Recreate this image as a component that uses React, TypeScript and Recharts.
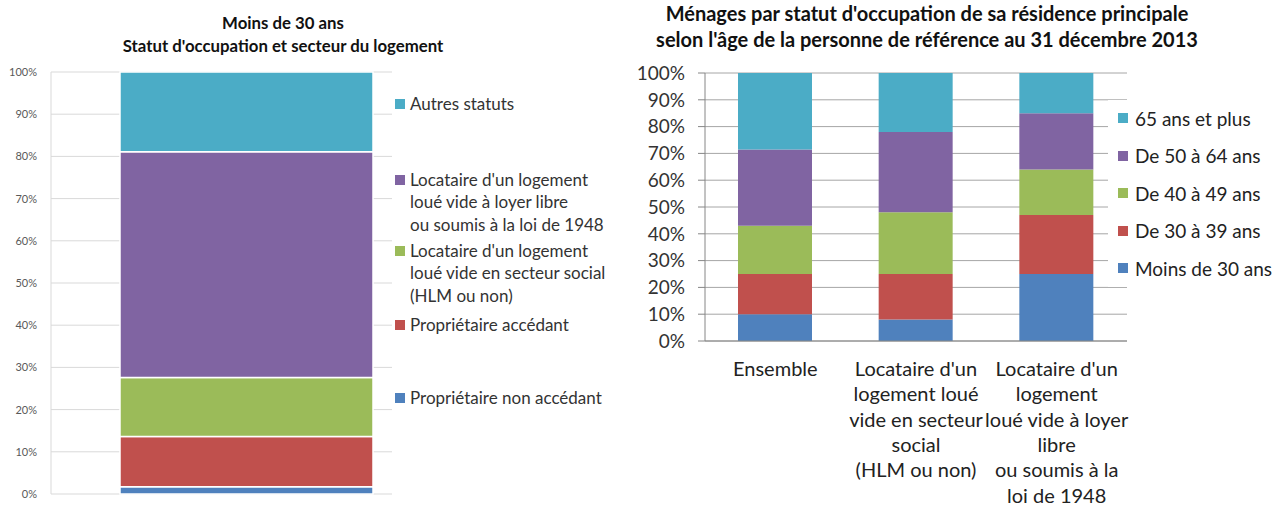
import { BarChart, Bar, XAxis, YAxis, CartesianGrid, Legend } from "recharts"

// Graphique de gauche : moins de 30 ans, statut d'occupation
const statuts = [
  "Propriétaire non accédant",
  "Propriétaire accédant",
  "Locataire d'un logement\nloué vide en secteur social\n(HLM ou non)",
  "Locataire d'un logement\nloué vide à loyer libre\nou soumis à la loi de 1948",
  "Autres statuts",
]
const partsMoins30 = [1.7, 11.9, 14.0, 53.5, 18.9]

// Graphique de droite : tranches d'âge par statut
const categories = [
  "Ensemble",
  "Locataire d'un\nlogement loué\nvide en secteur\nsocial\n(HLM ou non)",
  "Locataire d'un\nlogement\nloué vide à loyer\nlibre\nou soumis à la\nloi de 1948",
]
const tranches = ["Moins de 30 ans", "De 30 à 39 ans", "De 40 à 49 ans", "De 50 à 64 ans", "65 ans et plus"]
const moins30 = [10, 8, 25]
const de30a39 = [15, 17, 22]
const de40a49 = [18, 23, 17]
const de50a64 = [28.5, 30, 21]
const plus65 = [28.5, 22, 15]

const pctTicks = [0, 10, 20, 30, 40, 50, 60, 70, 80, 90, 100]
const couleurs = ["#4F81BD", "#C0504D", "#9BBB59", "#8064A2", "#4BACC6"]

const leftData = [
  partsMoins30.reduce(
    (acc, v, i) => {
      acc[`s${i}`] = v
      return acc
    },
    { name: "Moins de 30 ans" } as Record<string, any>,
  ),
]

const rightData = categories.map((c, i) => ({
  name: c,
  a0: moins30[i],
  a1: de30a39[i],
  a2: de40a49[i],
  a3: de50a64[i],
  a4: plus65[i],
}))
const seriesRight = [moins30, de30a39, de40a49, de50a64, plus65]

const leftGaps = [0, 53.5, 3.5, 6.5, 50.5]

// la légende est affichée du haut de la pile vers le bas
const ordered = (payload: any[], names: string[]) =>
  [...(payload || [])].sort((a, b) => names.indexOf(b.value) - names.indexOf(a.value))

const LeftLegend = ({ payload }: any) => {
  const items = ordered(payload, statuts)
  return (
    <div style={{ fontSize: 17, lineHeight: "22.5px", color: "#333", textAlign: "left" }}>
      {items.map((it: any, i: number) => (
        <div key={i} style={{ display: "flex", marginTop: leftGaps[i] }}>
          <span style={{ width: 10, height: 10, background: it.color, marginTop: 6, marginRight: 5, flex: "none" }} />
          <span>
            {String(it.value)
              .split("\n")
              .map((l, j) => (
                <div key={j}>{l}</div>
              ))}
          </span>
        </div>
      ))}
    </div>
  )
}

const RightLegend = ({ payload }: any) => {
  const items = ordered(payload, tranches)
  return (
    <div style={{ fontSize: 19, color: "#222", background: "#fff", paddingLeft: 10, textAlign: "left" }}>
      {items.map((it: any, i: number) => (
        <div key={i} style={{ display: "flex", alignItems: "center", height: 37.5 }}>
          <span style={{ width: 10, height: 10, background: it.color, marginRight: 7, flex: "none" }} />
          <span>{it.value}</span>
        </div>
      ))}
    </div>
  )
}

const CategoryTick = ({ x, y, payload }: any) => {
  const lines = String(payload.value).split("\n")
  return (
    <text x={x} y={y} textAnchor="middle" fontSize={20} fill="#222">
      {lines.map((l, i) => (
        <tspan key={i} x={x} dy={i === 0 ? 35 : 25.3}>
          {l}
        </tspan>
      ))}
    </text>
  )
}

export default function App() {
  return (
    <div style={{ position: "absolute", left: 0, top: 0, width: 1280, height: 508, background: "#fff", fontFamily: "Lato, sans-serif" }}>
      <div style={{ position: "absolute", left: 103, top: 11, width: 360, textAlign: "center", fontWeight: 700, fontSize: 16.8, lineHeight: "23px", color: "#111" }}>
        Moins de 30 ans
        <br />
        Statut d'occupation et secteur du logement
      </div>
      <div style={{ position: "absolute", left: 607, top: 0, width: 640, textAlign: "center", fontWeight: 700, fontSize: 20, lineHeight: "26px", color: "#111" }}>
        Ménages par statut d'occupation de sa résidence principale
        <br />
        selon l'âge de la personne de référence au 31 décembre 2013
      </div>

      <div style={{ position: "absolute", left: 0, top: 0 }}>
        <BarChart width={620} height={508} data={leftData} margin={{ top: 72, right: 228, bottom: 14, left: 0 }}>
          <CartesianGrid vertical={false} stroke="#d9d9d9" />
          <XAxis dataKey="name" height={0} tick={false} tickLine={false} axisLine={{ stroke: "#d9d9d9" }} padding={{ left: 50, right: 0 }} />
          <YAxis
            width={51}
            domain={[0, 100]}
            ticks={pctTicks}
            interval={0}
            tickFormatter={(v) => `${v}%`}
            tickSize={0}
            tickMargin={14}
            axisLine={{ stroke: "#d9d9d9" }}
            tick={{ fontSize: 11, fill: "#595959" }}
          />
          <Legend
            layout="horizontal"
            verticalAlign="middle"
            align="center"
            content={<LeftLegend />}
            wrapperStyle={{ position: "absolute", left: 395, top: 92.75, width: 225 }}
          />
          {statuts.map((s, i) => (
            <Bar key={s} dataKey={`s${i}`} name={s} stackId="a" fill={couleurs[i]} stroke="#fff" strokeWidth={1.5} barSize={253} isAnimationActive={false} />
          ))}
        </BarChart>
      </div>

      <div style={{ position: "absolute", left: 600, top: 0 }}>
        <BarChart width={680} height={508} data={rightData} margin={{ top: 73, right: 153, bottom: 0, left: 0 }}>
          <CartesianGrid vertical={false} stroke="#a6a6a6" />
          <XAxis dataKey="name" height={167} interval={0} tickSize={0} tickMargin={0} tick={<CategoryTick />} axisLine={{ stroke: "#868686" }} />
          <YAxis
            width={105}
            domain={[0, 100]}
            ticks={pctTicks}
            interval={0}
            tickFormatter={(v) => `${v}%`}
            tickSize={7}
            tickMargin={13}
            tickLine={{ stroke: "#868686" }}
            axisLine={{ stroke: "#868686" }}
            tick={{ fontSize: 19, fill: "#333" }}
          />
          <Legend
            layout="horizontal"
            verticalAlign="middle"
            align="center"
            content={<RightLegend />}
            wrapperStyle={{ position: "absolute", left: 508, top: 99.5, width: 172 }}
          />
          {seriesRight.map((_, i) => (
            <Bar key={tranches[i]} dataKey={`a${i}`} name={tranches[i]} stackId="b" fill={couleurs[i]} barSize={74} isAnimationActive={false} />
          ))}
        </BarChart>
      </div>
    </div>
  )
}
